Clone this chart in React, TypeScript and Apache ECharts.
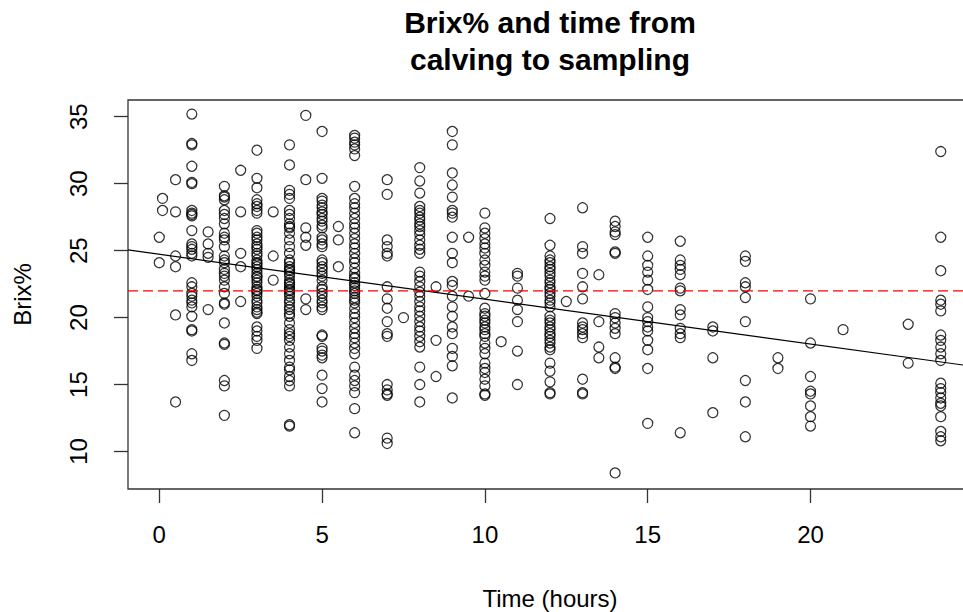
import React, { useEffect, useRef } from "react";
import * as echarts from "echarts";

const FONT = '"Liberation Sans", Arial, Helvetica, sans-serif';

// Sampling time (hours after calving) for each column of observations
const hours = [0, 0.1, 0.5, 1, 1.5, 2, 2.5, 3, 3.5, 4, 4.5, 5, 5.5, 6, 7, 7.5, 8, 8.5, 9, 9.5, 10, 10.5, 11, 12, 12.5, 13, 13.5, 14, 15, 16, 17, 18, 19, 20, 21, 23, 24];

// Brix% readings observed at each of the times above (same order)
const brixByHour: number[][] = [
  [26.0, 24.1],
  [28.9, 28.0],
  [30.3, 27.9, 24.6, 23.8, 20.2, 13.7],
  [35.2, 32.9, 33.0, 31.3, 30.0, 30.1, 28.0, 27.8, 27.7, 27.6, 26.5, 25.5, 25.3, 25.1, 24.8, 24.6, 22.6, 22.3, 21.8, 21.6, 21.3, 21.1, 20.8, 20.1, 19.1, 19.0, 17.3, 16.8],
  [26.4, 25.5, 24.8, 24.5, 20.6],
  [29.8, 29.1, 29.0, 28.8, 28.0, 27.7, 27.4, 27.0, 26.3, 26.0, 25.8, 25.3, 24.6, 24.3, 24.1, 23.6, 23.3, 23.1, 22.8, 22.3, 21.8, 21.1, 21.0, 19.6, 18.1, 18.0, 15.3, 14.9, 12.7],
  [31.0, 27.9, 24.8, 23.8, 21.2],
  [32.5, 30.4, 29.7, 28.8, 28.5, 28.3, 28.0, 27.8, 26.5, 26.3, 26.0, 25.8, 25.5, 25.3, 25.1, 24.8, 24.6, 24.3, 24.1, 24.0, 23.8, 23.6, 23.3, 23.1, 23.0, 22.8, 22.6, 22.3, 22.1, 22.0, 21.8, 21.6, 21.3, 21.1, 20.8, 20.6, 20.4, 20.3, 19.3, 19.0, 18.6, 18.3, 17.7],
  [27.9, 24.6, 22.8],
  [32.9, 31.4, 29.5, 29.2, 28.9, 28.0, 27.7, 27.4, 27.0, 26.8, 26.7, 26.3, 25.8, 25.3, 24.8, 24.3, 24.1, 23.8, 23.6, 23.5, 23.3, 23.1, 22.8, 22.6, 22.5, 22.3, 22.1, 22.0, 21.8, 21.6, 21.3, 21.1, 20.8, 20.6, 20.3, 20.1, 19.6, 19.1, 18.8, 18.6, 18.3, 17.8, 17.3, 16.8, 16.3, 16.1, 15.6, 15.3, 14.9, 12.0, 11.9],
  [35.1, 30.3, 26.7, 26.0, 25.4, 21.4, 20.6],
  [33.9, 30.4, 28.9, 28.7, 28.4, 28.2, 27.9, 27.7, 27.4, 27.2, 26.9, 26.7, 26.0, 25.8, 25.5, 25.3, 24.3, 24.1, 23.8, 23.6, 23.3, 23.1, 22.8, 22.3, 22.1, 21.8, 21.6, 21.3, 21.1, 20.8, 20.6, 18.7, 18.6, 17.7, 17.5, 17.2, 17.0, 15.7, 14.7, 13.7],
  [26.8, 25.8, 23.8],
  [33.6, 33.4, 33.1, 32.9, 32.6, 32.1, 29.8, 28.9, 28.5, 28.2, 27.8, 27.4, 27.0, 26.7, 26.3, 25.9, 25.5, 25.2, 24.8, 24.4, 24.1, 23.7, 23.3, 23.0, 22.9, 22.6, 22.4, 22.2, 22.0, 21.8, 21.5, 21.3, 21.1, 20.7, 20.3, 20.0, 19.6, 19.2, 18.8, 18.5, 18.1, 17.7, 17.3, 16.3, 15.7, 15.3, 14.9, 14.4, 13.2, 11.4],
  [30.3, 29.2, 25.8, 25.3, 24.8, 24.6, 22.3, 21.4, 20.7, 19.7, 18.8, 18.6, 15.0, 14.6, 14.3, 14.2, 11.0, 10.6],
  [20.0],
  [31.2, 30.2, 29.3, 28.3, 28.0, 27.8, 27.5, 27.3, 27.0, 26.8, 26.5, 26.2, 25.8, 25.4, 25.1, 24.8, 23.4, 23.1, 22.7, 22.3, 21.9, 21.6, 21.2, 20.8, 20.5, 20.1, 19.7, 19.3, 19.0, 18.6, 18.2, 17.8, 16.3, 15.0, 13.7],
  [22.3, 18.3, 15.6],
  [33.9, 32.9, 30.8, 29.9, 29.0, 28.0, 27.8, 27.5, 26.0, 24.8, 24.1, 22.7, 22.4, 21.6, 20.8, 20.1, 19.3, 18.8, 17.7, 17.1, 16.4, 14.0],
  [26.0, 21.6],
  [27.8, 26.7, 26.3, 25.9, 25.5, 25.2, 24.8, 24.3, 23.9, 23.4, 23.1, 22.8, 21.8, 20.7, 20.3, 20.1, 19.8, 19.6, 19.3, 19.1, 18.8, 18.6, 18.1, 17.7, 17.3, 16.6, 16.2, 15.9, 15.4, 14.9, 14.3, 14.2],
  [18.2],
  [23.3, 23.1, 22.2, 21.3, 20.6, 19.7, 17.5, 15.0],
  [27.4, 25.4, 24.6, 24.3, 24.1, 23.8, 23.6, 23.3, 23.1, 22.8, 22.6, 22.3, 22.1, 21.8, 21.6, 21.3, 21.1, 20.8, 20.1, 19.8, 19.6, 19.3, 19.1, 18.8, 18.6, 18.3, 18.1, 17.8, 17.6, 16.6, 16.0, 15.2, 14.4, 14.3],
  [21.2],
  [28.2, 25.3, 24.8, 23.3, 22.3, 21.4, 19.6, 19.3, 19.1, 18.8, 18.5, 15.4, 14.4, 14.3],
  [23.2, 19.7, 17.8, 17.0],
  [27.2, 26.8, 26.4, 26.2, 24.9, 24.8, 20.3, 20.0, 19.6, 19.2, 18.8, 17.0, 16.3, 16.2, 8.4],
  [26.0, 24.6, 23.9, 23.4, 22.8, 22.1, 20.8, 20.0, 19.7, 19.3, 19.0, 18.3, 17.6, 16.2, 12.1],
  [25.7, 24.3, 23.9, 23.6, 23.2, 22.2, 22.0, 20.6, 20.2, 19.2, 18.8, 18.5, 11.4],
  [19.3, 19.0, 17.0, 12.9],
  [24.6, 24.2, 22.6, 22.3, 21.5, 19.7, 15.3, 13.7, 11.1],
  [17.0, 16.2],
  [21.4, 18.1, 15.6, 14.5, 14.3, 13.4, 12.6, 11.9],
  [19.1],
  [19.5, 16.6],
  [32.4, 26.0, 23.5, 21.3, 21.0, 20.5, 18.7, 18.3, 17.8, 17.3, 16.8, 15.1, 14.7, 14.4, 14.0, 13.6, 13.4, 12.6, 11.5, 11.1, 10.8],
];

// Axis ticks
const xTicks = [0, 5, 10, 15, 20];
const yTicks = [10, 15, 20, 25, 30, 35];

// Fitted regression line (Brix% = intercept + slope * hours) and reference level
const fitIntercept = 24.73;
const fitSlope = -0.335;
const refLevel = 22;

const X_MIN = -0.96;
const X_MAX = 24.96;
const Y_MIN = 7.2;
const Y_MAX = 36.25;

export default function App() {
  const ref = useRef<HTMLDivElement>(null);

  useEffect(() => {
    if (!ref.current) return;
    const chart = echarts.init(ref.current, undefined, { renderer: "svg" });

    const points: number[][] = [];
    hours.forEach((h, i) => {
      brixByHour[i].forEach((v) => points.push([h, v]));
    });

    const fitLine = [
      [X_MIN, fitIntercept + fitSlope * X_MIN],
      [X_MAX, fitIntercept + fitSlope * X_MAX],
    ];
    const refLine = [
      [X_MIN, refLevel],
      [X_MAX, refLevel],
    ];

    const labelStyle = { fontFamily: FONT, fontSize: 24, color: "#000" };

    chart.setOption({
      animation: false,
      backgroundColor: "#fff",
      title: {
        text: "Brix% and time from\ncalving to sampling",
        left: 550,
        top: 4,
        textAlign: "center",
        padding: 0,
        textStyle: {
          fontFamily: FONT,
          fontWeight: "bold",
          fontSize: 30,
          lineHeight: 37,
          color: "#000",
        },
      },
      grid: {
        left: 128,
        top: 100,
        width: 844,
        height: 389,
        show: true,
        borderColor: "#333",
        borderWidth: 1.3,
        backgroundColor: "transparent",
        containLabel: false,
        outerBoundsMode: "none",
      },
      xAxis: {
        type: "value",
        min: X_MIN,
        max: X_MAX,
        axisLine: { show: false, onZero: false },
        splitLine: { show: false },
        axisTick: {
          show: true,
          inside: false,
          length: 14,
          customValues: xTicks,
          lineStyle: { color: "#333", width: 1.3 },
        },
        axisLabel: { ...labelStyle, customValues: xTicks, margin: 33 },
        name: "Time (hours)",
        nameLocation: "middle",
        nameGap: 97,
        nameTextStyle: labelStyle,
      },
      yAxis: {
        type: "value",
        min: Y_MIN,
        max: Y_MAX,
        axisLine: { show: false, onZero: false },
        splitLine: { show: false },
        axisTick: {
          show: true,
          inside: false,
          length: 14,
          customValues: yTicks,
          lineStyle: { color: "#333", width: 1.3 },
        },
        axisLabel: {
          ...labelStyle,
          customValues: yTicks,
          margin: 38,
          rotate: 90,
          align: "center",
          verticalAlign: "bottom",
        },
        name: "Brix%",
        nameLocation: "middle",
        nameRotate: 90,
        nameGap: 94,
        nameTextStyle: labelStyle,
      },
      series: [
        {
          type: "scatter",
          data: points,
          symbol: "circle",
          symbolSize: 10,
          itemStyle: { color: "rgba(0,0,0,0)", borderColor: "#000", borderWidth: 1.25 },
          silent: true,
        },
        {
          type: "line",
          data: fitLine,
          symbol: "none",
          lineStyle: { color: "#000", width: 1.2 },
          silent: true,
        },
        {
          type: "line",
          data: refLine,
          symbol: "none",
          lineStyle: { color: "#ff0000", width: 1.3, type: [10, 5] },
          silent: true,
        },
      ],
    });

    return () => chart.dispose();
  }, []);

  return (
    <div
      ref={ref}
      style={{ position: "absolute", left: 0, top: 0, width: 963, height: 612, background: "#fff" }}
    />
  );
}
